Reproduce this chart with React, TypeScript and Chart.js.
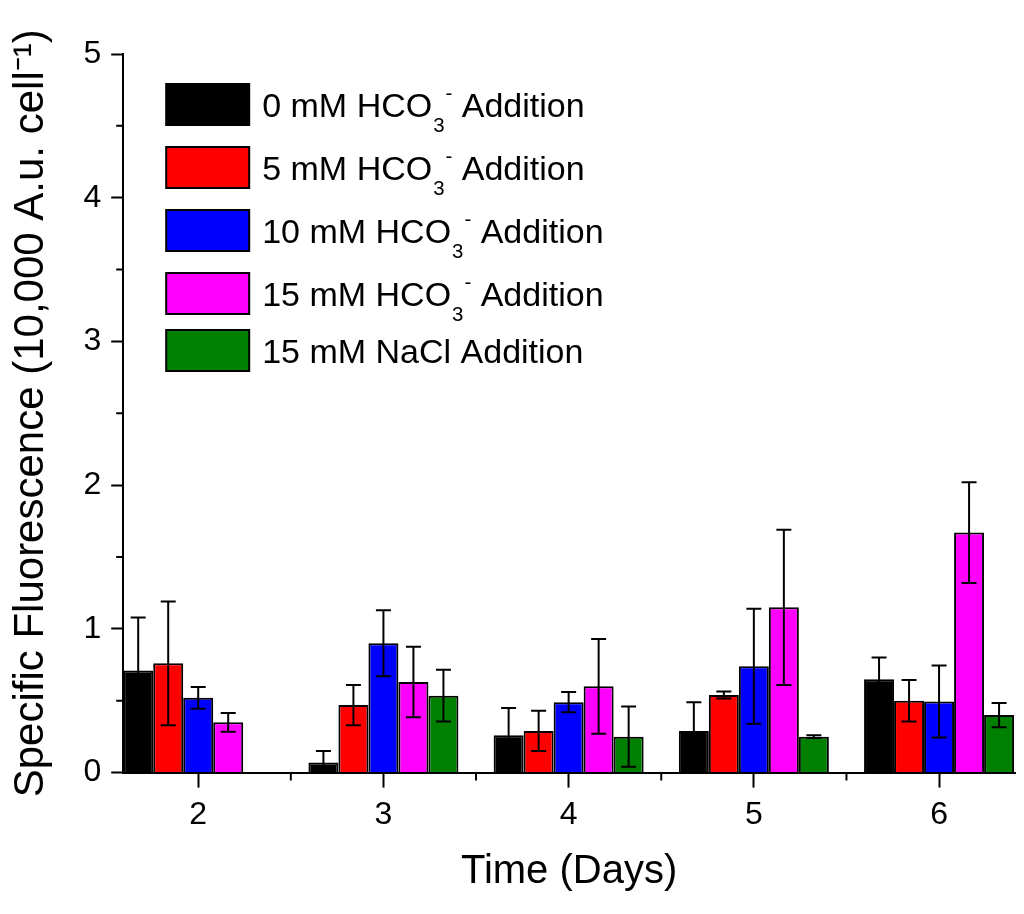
import React, { useEffect, useRef } from 'react';
import { Chart, registerables } from 'chart.js';

Chart.register(...registerables);

// ---------- data ----------
const days = [2, 3, 4, 5, 6];

const seriesLabels = [
  '0 mM HCO₃⁻ Addition',
  '5 mM HCO₃⁻ Addition',
  '10 mM HCO₃⁻ Addition',
  '15 mM HCO₃⁻ Addition',
  '15 mM NaCl Addition',
];
const seriesColors = ['#000000', '#ff0000', '#0000ff', '#ff00ff', '#008000'];

const mean0 = [0.71, 0.07, 0.26, 0.29, 0.65];
const err0 = [0.37, 0.08, 0.19, 0.2, 0.15];
const mean5 = [0.76, 0.47, 0.29, 0.54, 0.5];
const err5 = [0.43, 0.14, 0.14, 0.025, 0.145];
const mean10 = [0.52, 0.9, 0.49, 0.74, 0.495];
const err10 = [0.075, 0.23, 0.07, 0.4, 0.25];
const mean15 = [0.35, 0.63, 0.6, 1.15, 1.67];
const err15 = [0.065, 0.245, 0.33, 0.54, 0.35];
const meanNaCl = [null, 0.535, 0.25, 0.25, 0.4];
const errNaCl = [null, 0.18, 0.21, 0.01, 0.085];

const seriesMeans = [mean0, mean5, mean10, mean15, meanNaCl];
const seriesErrors = [err0, err5, err10, err15, errNaCl];

const xTicks = [2, 3, 4, 5, 6];
const xMinorTicks = [2.5, 3.5, 4.5, 5.5];
const yTicks = [0, 1, 2, 3, 4, 5];
const yMinorTicks = [0.5, 1.5, 2.5, 3.5, 4.5];

const xTitle = 'Time (Days)';
const yTitle = 'Specific Fluorescence (10,000 A.u. cell⁻¹)';

const FONT = '"Liberation Sans", Arial, sans-serif';

// ---------- helpers ----------
function drawRich(ctx: CanvasRenderingContext2D, text: string, x: number, baseline: number, fs: number) {
  type Seg = { t: string; kind: 'n' | 'sub' | 'sup' };
  const segs: Seg[] = [];
  for (const ch of Array.from(text)) {
    let kind: Seg['kind'] = 'n';
    let t = ch;
    if (ch === '₃') { kind = 'sub'; t = '3'; }
    else if (ch === '⁻') { kind = 'sup'; t = '-'; }
    const last = segs[segs.length - 1];
    if (last && last.kind === kind) last.t += t;
    else segs.push({ t, kind });
  }
  let cx = x;
  for (const s of segs) {
    if (s.kind === 'n') {
      ctx.font = `${fs}px ${FONT}`;
      ctx.fillText(s.t, cx, baseline);
      cx += ctx.measureText(s.t).width;
    } else if (s.kind === 'sub') {
      const f = fs * 0.6;
      ctx.font = `${f}px ${FONT}`;
      ctx.fillText(s.t, cx + 1, baseline + fs * 0.45);
      cx += ctx.measureText(s.t).width + 1;
    } else {
      const f = fs * 0.6;
      ctx.font = `${f}px ${FONT}`;
      ctx.fillText(s.t, cx + 1, baseline - fs * 0.5);
      cx += ctx.measureText(s.t).width + 1;
    }
  }
}

const errorBarPlugin = {
  id: 'errorBars',
  afterDatasetsDraw(chart: any) {
    const ctx = chart.ctx as CanvasRenderingContext2D;
    const yScale = chart.scales.y;
    const area = chart.chartArea;
    ctx.save();
    ctx.beginPath();
    ctx.rect(area.left, area.top - 20, area.right - area.left, area.bottom - area.top + 20);
    ctx.clip();
    chart.data.datasets.forEach((ds: any, di: number) => {
      const meta = chart.getDatasetMeta(di);
      meta.data.forEach((el: any, i: number) => {
        const v = ds.data[i]?.y;
        const e = ds.errors[i];
        if (v == null || e == null) return;
        const x = el.x;
        const yt = yScale.getPixelForValue(v + e);
        const yb = yScale.getPixelForValue(v - e);
        const cap = 7.5;
        ctx.strokeStyle = '#000';
        ctx.lineWidth = 2;
        ctx.beginPath();
        ctx.moveTo(x, yt);
        ctx.lineTo(x, yb);
        ctx.moveTo(x - cap, yt);
        ctx.lineTo(x + cap, yt);
        ctx.moveTo(x - cap, yb);
        ctx.lineTo(x + cap, yb);
        ctx.stroke();
      });
    });
    ctx.restore();
  },
};

const minorTickPlugin = {
  id: 'minorTicks',
  afterDraw(chart: any) {
    const ctx = chart.ctx as CanvasRenderingContext2D;
    const { x, y } = chart.scales;
    const area = chart.chartArea;
    ctx.save();
    ctx.strokeStyle = '#000';
    ctx.lineWidth = 2;
    ctx.beginPath();
    xMinorTicks.forEach((v) => {
      const px = x.getPixelForValue(v);
      ctx.moveTo(px, area.bottom);
      ctx.lineTo(px, area.bottom + 8);
    });
    yMinorTicks.forEach((v) => {
      const py = y.getPixelForValue(v);
      ctx.moveTo(area.left, py);
      ctx.lineTo(area.left - 7, py);
    });
    ctx.stroke();
    ctx.restore();
  },
};

const legendPlugin = {
  id: 'richLegend',
  afterDraw(chart: any) {
    const ctx = chart.ctx as CanvasRenderingContext2D;
    const area = chart.chartArea;
    const fs = 34;
    const boxW = 83;
    const boxH = 41;
    const x0 = area.left + 43;
    let top = area.top + 30;
    chart.data.datasets.forEach((ds: any, i: number) => {
      if (i > 0) {
        const hasSup = String(ds.label).includes('⁻');
        top += boxH + (hasSup ? 22 : 16);
      }
      ctx.save();
      ctx.fillStyle = ds.backgroundColor;
      ctx.fillRect(x0, top, boxW, boxH);
      ctx.strokeStyle = '#000';
      ctx.lineWidth = 2;
      ctx.strokeRect(x0, top, boxW, boxH);
      ctx.fillStyle = '#000';
      ctx.textBaseline = 'alphabetic';
      ctx.textAlign = 'left';
      drawRich(ctx, ds.label, x0 + boxW + 13, top + boxH / 2 + (fs * 0.716) / 2, fs);
      ctx.restore();
    });
  },
};

export default function App() {
  const ref = useRef<HTMLCanvasElement>(null);

  useEffect(() => {
    if (!ref.current) return;
    const datasets = seriesLabels.map((label, si) => ({
      label,
      data: days.map((d, i) => ({ x: d, y: seriesMeans[si][i] })),
      errors: seriesErrors[si],
      backgroundColor: seriesColors[si],
      borderColor: '#000000',
      borderWidth: 2,
      categoryPercentage: 0.81,
      barPercentage: 1.0,
    }));

    const chart = new Chart(ref.current, {
      type: 'bar',
      data: { datasets } as any,
      options: {
        animation: false,
        responsive: true,
        maintainAspectRatio: false,
        layout: { padding: { left: 0, right: 9, top: 54, bottom: 0 } },
        plugins: {
          legend: { display: false },
          tooltip: { enabled: false },
        },
        scales: {
          x: {
            type: 'linear',
            min: 1.595,
            max: 6.41,
            offset: false,
            afterBuildTicks: (axis: any) => {
              axis.ticks = xTicks.map((v) => ({ value: v }));
            },
            grid: {
              offset: false,
              drawOnChartArea: false,
              drawTicks: true,
              tickLength: 15,
              tickWidth: 2,
              tickColor: '#000',
            },
            border: { display: true, color: '#000', width: 2 },
            ticks: {
              color: '#000',
              font: { family: FONT, size: 32 },
              padding: 8,
              maxRotation: 0,
              autoSkip: false,
              callback: (v: any) => String(v),
            },
            title: {
              display: true,
              text: xTitle,
              color: '#000',
              font: { family: FONT, size: 40 },
              padding: { top: 6, bottom: 18 },
            },
          },
          y: {
            type: 'linear',
            min: 0,
            max: 5,
            afterBuildTicks: (axis: any) => {
              axis.ticks = yTicks.map((v) => ({ value: v }));
            },
            grid: {
              drawOnChartArea: false,
              drawTicks: true,
              tickLength: 12,
              tickWidth: 2,
              tickColor: '#000',
            },
            border: { display: true, color: '#000', width: 2 },
            ticks: {
              color: '#000',
              font: { family: FONT, size: 32 },
              padding: 10,
              callback: (v: any) => String(v),
            },
            title: {
              display: true,
              text: yTitle,
              color: '#000',
              font: { family: FONT, size: 42 },
              padding: { top: 6, bottom: 17 },
            },
          },
        },
      } as any,
      plugins: [errorBarPlugin, minorTickPlugin, legendPlugin],
    });
    return () => chart.destroy();
  }, []);

  return (
    <div style={{ position: 'absolute', left: 0, top: 0, width: 1024, height: 914, background: '#fff' }}>
      <canvas ref={ref} />
    </div>
  );
}
